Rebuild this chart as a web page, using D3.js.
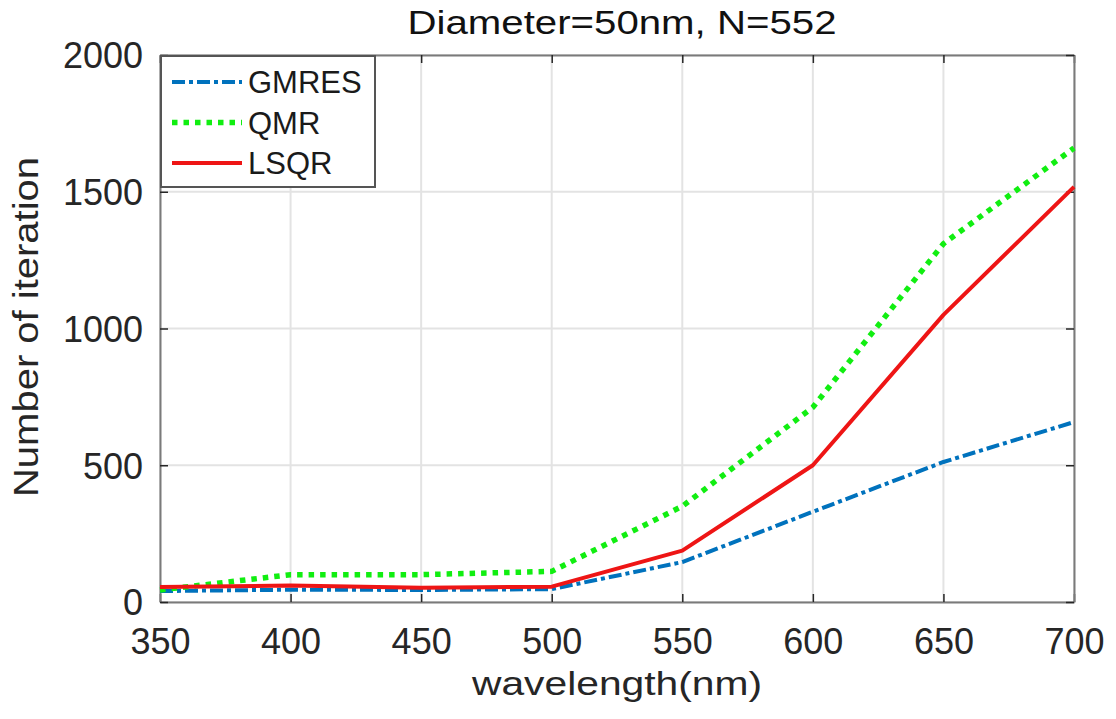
<!DOCTYPE html>
<html>
<head>
<style>
body { margin: 0; background: #fff; }
svg { font-family: "Liberation Sans", Arial, sans-serif; }
.tick text { fill: #262626; font-size: 36px; }
</style>
<script src="https://cdn.jsdelivr.net/npm/d3@7"></script>
</head>
<body>
<script>
// values
var wavelength = [350, 400, 450, 500, 550, 600, 650, 700];
var gmres = [40, 45, 44, 47, 146, 330, 512, 658];
var qmr   = [44, 100, 100, 112, 350, 712, 1310, 1660];
var lsqr  = [55, 60, 52, 56, 188, 500, 1050, 1518];
var xTicks = [350, 400, 450, 500, 550, 600, 650, 700];
var yTicks = [0, 500, 1000, 1500, 2000];

var series = [
  {name: "GMRES", values: gmres, color: "#0072bd", width: 4, dash: "13,4,4,4"},
  {name: "QMR",   values: qmr,   color: "#11ee11", width: 5.5, dash: "5.5,6"},
  {name: "LSQR",  values: lsqr,  color: "#ee1515", width: 4, dash: null}
];

var W = 1116, H = 719;
var x = d3.scaleLinear().domain([350, 700]).range([160, 1074]);
var y = d3.scaleLinear().domain([0, 2000]).range([602, 55]);

var svg = d3.select("body").append("svg").attr("width", W).attr("height", H);

// grid
svg.append("g").selectAll("line.vx").data(xTicks).enter().append("line")
  .attr("x1", function(d){ return x(d); }).attr("x2", function(d){ return x(d); })
  .attr("y1", y(0)).attr("y2", y(2000))
  .attr("stroke", "#e3e3e3").attr("stroke-width", 2);
svg.append("g").selectAll("line.hy").data(yTicks).enter().append("line")
  .attr("y1", function(d){ return y(d); }).attr("y2", function(d){ return y(d); })
  .attr("x1", x(350)).attr("x2", x(700))
  .attr("stroke", "#e3e3e3").attr("stroke-width", 2);

// axes
var fmt = d3.format("d");
var xAxis = d3.axisBottom(x).tickValues(xTicks).tickFormat(fmt).tickSizeInner(-8).tickSizeOuter(0);
var yAxis = d3.axisLeft(y).tickValues(yTicks).tickFormat(fmt).tickSizeInner(-8).tickSizeOuter(0).tickPadding(17);
var gx = svg.append("g").attr("transform", "translate(0," + y(0) + ")").call(xAxis);
var gy = svg.append("g").attr("transform", "translate(" + x(350) + ",0)").call(yAxis);
svg.append("g").attr("transform", "translate(0," + y(2000) + ")")
  .call(d3.axisTop(x).tickValues(xTicks).tickSizeInner(-8).tickSizeOuter(0).tickFormat(""));
svg.append("g").attr("transform", "translate(" + x(700) + ",0)")
  .call(d3.axisRight(y).tickValues(yTicks).tickSizeInner(-8).tickSizeOuter(0).tickFormat(""));
svg.selectAll(".domain").attr("stroke", "#7a7a7a").attr("stroke-width", 2);
svg.selectAll(".tick line").attr("stroke", "#262626").attr("stroke-width", 1.5);
gx.selectAll(".tick text").attr("dy", "0.71em").attr("y", 26);
gy.selectAll(".tick text").attr("dy", "0.36em");

// lines
var line = d3.line().x(function(d, i){ return x(wavelength[i]); }).y(function(d){ return y(d); });
series.forEach(function(s) {
  svg.append("path").datum(s.values)
    .attr("d", line)
    .attr("fill", "none")
    .attr("stroke", s.color)
    .attr("stroke-width", s.width)
    .attr("stroke-dasharray", s.dash)
    .attr("stroke-linejoin", "round");
});

// legend
var lg = svg.append("g");
lg.append("rect").attr("x", 161).attr("y", 56).attr("width", 214).attr("height", 131)
  .attr("fill", "#fff").attr("stroke", "#555").attr("stroke-width", 2);
series.forEach(function(s, i) {
  var ly = 82 + i * 40.5;
  lg.append("line").attr("x1", 172).attr("x2", 242).attr("y1", ly).attr("y2", ly)
    .attr("stroke", s.color).attr("stroke-width", s.width).attr("stroke-dasharray", s.dash);
  lg.append("text").attr("x", 248).attr("y", ly).attr("dy", "0.36em")
    .attr("font-size", 31).attr("fill", "#1a1a1a").text(s.name);
});

// titles
svg.append("text").attr("x", 622).attr("y", 34).attr("text-anchor", "middle")
  .attr("font-size", 33).attr("fill", "#111")
  .attr("textLength", 429).attr("lengthAdjust", "spacingAndGlyphs")
  .text("Diameter=50nm, N=552");
svg.append("text").attr("x", 617).attr("y", 695).attr("text-anchor", "middle")
  .attr("font-size", 34).attr("fill", "#262626")
  .attr("textLength", 290).attr("lengthAdjust", "spacingAndGlyphs")
  .text("wavelength(nm)");
svg.append("text").attr("transform", "translate(38,327) rotate(-90)").attr("text-anchor", "middle")
  .attr("font-size", 35).attr("fill", "#262626")
  .attr("textLength", 340).attr("lengthAdjust", "spacingAndGlyphs")
  .text("Number of iteration");
</script>
</body>
</html>
